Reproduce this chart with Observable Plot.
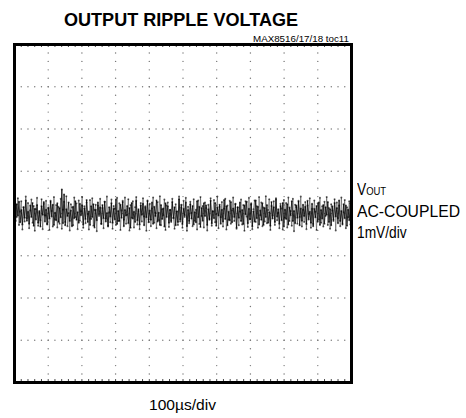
<!DOCTYPE html>
<html>
<head>
<meta charset="utf-8">
<script src="https://cdn.jsdelivr.net/npm/d3@7"></script>
<script src="https://cdn.jsdelivr.net/npm/@observablehq/plot@0.6"></script>
<style>
  html, body { margin: 0; padding: 0; background: #fff; }
  #wrap { position: relative; width: 466px; height: 418px; overflow: hidden; font-family: "Liberation Sans", Arial, sans-serif; color: #000; }
  #wrap svg { position: absolute; left: 0; top: 0; }
  .lbl { position: absolute; white-space: nowrap; line-height: 1; transform-origin: 0 0; }
</style>
</head>
<body>
<div id="wrap"></div>
<script>
// ---- data ----
const title = "OUTPUT RIPPLE VOLTAGE";
const figId = "MAX8516/17/18 toc11";
const traceLabel = ["V", "OUT", "AC-COUPLED", "1mV/div"];
const timeLabel = "100µs/div";
const xDivs = [0, 1, 2, 3, 4, 5, 6, 7, 8, 9, 10];   // 100 µs per division
const yDivs = [-4, -3, -2, -1, 0, 1, 2, 3, 4];      // 1 mV per division
const minorStep = 0.2;
// VOUT ripple, AC-coupled, in mV (estimated from the trace band) - sweep 1
const rippleMV = [
  0.12,-0.18,0.22,-0.05,0.28,-0.21,0.08,-0.26,0.15,-0.10,0.31,-0.17,0.04,-0.24,0.19,-0.08,0.25,-0.29,0.11,-0.14,
  0.20,-0.22,0.06,-0.31,0.17,-0.03,0.27,-0.19,0.09,-0.25,0.14,-0.12,0.30,-0.07,0.21,-0.27,0.02,-0.16,0.24,-0.20,
  0.13,-0.09,0.57,-0.23,0.45,-0.28,0.10,-0.06,0.26,-0.18,0.07,-0.30,0.16,-0.11,0.29,-0.15,0.03,-0.22,0.23,-0.04,
  0.19,-0.26,0.12,-0.13,0.32,-0.20,0.05,-0.27,0.17,-0.08,0.22,-0.33,0.09,-0.16,0.26,-0.02,0.14,-0.24,0.20,-0.11,
  0.28,-0.19,0.01,-0.29,0.15,-0.07,0.24,-0.22,0.11,-0.14,0.33,-0.25,0.06,-0.18,0.21,-0.10,0.27,-0.30,0.08,-0.05,
  0.18,-0.23,0.13,-0.34,0.25,-0.12,0.04,-0.20,0.30,-0.16,0.10,-0.26,0.19,-0.03,0.23,-0.28,0.14,-0.09,0.29,-0.21,
  0.07,-0.15,0.26,-0.24,0.16,-0.06,0.31,-0.19,0.02,-0.27,0.20,-0.13,0.12,-0.31,0.24,-0.08,0.17,-0.22,0.09,-0.17,
  0.27,-0.10,0.15,-0.28,0.05,-0.20,0.34,-0.14,0.21,-0.25,0.11,-0.04,0.26,-0.30,0.08,-0.18,0.22,-0.12,0.18,-0.26,
  0.03,-0.21,0.29,-0.09,0.16,-0.32,0.13,-0.17,0.24,-0.06,0.19,-0.27,0.10,-0.15,0.30,-0.23,0.06,-0.11,0.25,-0.29,
  0.14,-0.05,0.21,-0.24,0.09,-0.19,0.32,-0.13,0.17,-0.28,0.04,-0.16,0.27,-0.21,0.12,-0.08,0.23,-0.33,0.15,-0.10,
  0.26,-0.18,0.08,-0.25,0.19,-0.02,0.28,-0.23,0.11,-0.14,0.22,-0.30,0.05,-0.19,0.31,-0.11,0.16,-0.26,0.07,-0.15,
  0.24,-0.27,0.13,-0.08,0.20,-0.22,0.03,-0.29,0.27,-0.12,0.15,-0.20,0.33,-0.07,0.10,-0.24,0.18,-0.16,0.25,-0.31,
  0.09,-0.13,0.22,-0.26,0.14,-0.04,0.29,-0.18,0.06,-0.23,0.19,-0.10,0.28,-0.28,0.12,-0.17,0.21,-0.06,0.16,-0.25,
  0.30,-0.14,0.04,-0.22,0.23,-0.30,0.11,-0.09,0.18,-0.19,0.26,-0.27,0.08,-0.12,0.20,-0.24,0.15,-0.03,0.27,-0.20,
  0.10,-0.28,0.17,-0.15,0.25,-0.07,0.13,-0.23,0.31,-0.18,0.06,-0.26,0.22,-0.11,0.19,-0.29,0.09,-0.16,0.24,-0.12
];
// sweep 2 (persistence samples, in mV)
const rippleMV2 = [
  -0.32,0.21,-0.08,0.36,-0.27,0.04,0.29,-0.38,0.15,-0.19,0.40,-0.11,0.25,-0.35,0.07,0.33,-0.22,0.18,-0.41,0.10,
  0.37,-0.29,0.02,-0.16,0.34,-0.37,0.23,-0.05,0.30,-0.26,0.12,-0.39,0.27,0.06,-0.31,0.39,-0.14,0.20,-0.33,0.16,
  -0.24,0.35,-0.36,0.09,0.28,-0.20,0.41,-0.30,0.01,-0.40,0.22,0.14,-0.28,0.38,-0.09,0.24,-0.37,0.31,-0.17,0.05,
  0.39,-0.34,0.17,-0.23,0.26,-0.01,-0.38,0.32,-0.13,0.36,-0.29,0.08,0.21,-0.42,0.19,-0.06,0.35,-0.25,0.13,-0.35,
  0.28,-0.12,0.40,-0.31,0.03,-0.21,0.33,-0.36,0.18,0.11,-0.27,0.37,-0.18,0.24,-0.39,0.07,0.30,-0.15,0.38,-0.24,
  -0.03,0.34,-0.40,0.20,-0.10,0.29,-0.33,0.15,0.39,-0.26,0.06,-0.37,0.25,-0.19,0.36,-0.07,0.17,-0.41,0.31,-0.14,
  0.23,-0.30,0.12,0.38,-0.22,0.02,-0.35,0.27,-0.16,0.41,-0.28,0.10,-0.04,0.33,-0.39,0.19,0.26,-0.32,0.08,-0.20,
  0.35,-0.11,-0.36,0.22,0.05,-0.27,0.40,-0.19,0.14,-0.34,0.30,-0.08,0.37,-0.41,0.16,-0.23,0.28,0.01,-0.30,0.34,
  -0.17,0.09,-0.38,0.31,-0.25,0.39,-0.06,0.18,-0.33,0.26,0.13,-0.40,0.21,-0.12,0.36,-0.29,0.04,0.32,-0.21,-0.02,
  0.40,-0.35,0.16,-0.09,0.27,-0.31,0.11,0.35,-0.38,0.19,-0.15,0.30,-0.24,0.07,0.38,-0.18,0.22,-0.36,0.14,-0.28,
  0.05,0.33,-0.26,0.20,-0.41,0.29,-0.07,-0.32,0.37,-0.13,0.24,-0.37,0.10,0.31,-0.20,0.17,-0.34,0.39,-0.04,0.26,
  -0.30,0.14,-0.19,0.41,-0.23,0.08,0.34,-0.39,0.18,-0.05,0.29,-0.27,0.36,-0.16,0.02,-0.35,0.23,0.12,-0.38,0.32,
  -0.10,0.25,-0.33,0.38,-0.18,0.06,-0.29,0.35,-0.42,0.21,0.15,-0.24,0.30,-0.08,0.40,-0.31,0.09,-0.20,0.27,-0.37,
  0.19,-0.01,0.36,-0.34,0.11,-0.25,0.31,0.04,-0.39,0.24,-0.14,0.37,-0.22,0.17,-0.31,0.28,-0.06,0.39,-0.27,0.13,
  -0.36,0.22,0.07,-0.18,0.34,-0.40,0.26,-0.11,0.19,-0.30,0.38,-0.23,0.03,0.32,-0.35,0.15,-0.09,0.29,-0.26,0.21
];

// ---- derived tables ----
const xMin = xDivs[0], xMax = xDivs[xDivs.length - 1];
const yMin = yDivs[0], yMax = yDivs[yDivs.length - 1];
const toTrace = arr => arr.map((v, i) => ({t: xMin + (xMax - xMin) * i / (arr.length - 1), v}));
const trace1 = toTrace(rippleMV);
const trace2 = toTrace(rippleMV2);
const minorX = d3.range(xMin, xMax + 1e-9, minorStep);
const minorY = d3.range(yMin, yMax + 1e-9, minorStep);
const vDots = [];
xDivs.slice(1, -1).forEach(x => minorY.forEach(y => vDots.push({x, y})));
const hDots = [];
yDivs.slice(1, -1).forEach(y => minorX.forEach(x => hDots.push({x, y})));

const chart = Plot.plot({
  width: 466,
  height: 418,
  marginLeft: 14,
  marginRight: 115,
  marginTop: 44,
  marginBottom: 36,
  x: {domain: [xMin, xMax], axis: null},
  y: {domain: [yMin, yMax], axis: null},
  marks: [
    Plot.dot(vDots, {x: "x", y: "y", r: 0.7, fill: "#777", stroke: "none"}),
    Plot.dot(hDots, {x: "x", y: "y", r: 0.7, fill: "#777", stroke: "none"}),
    Plot.ruleX(minorX, {y1: yMax, y2: yMax - 0.07, stroke: "#444", strokeWidth: 1}),
    Plot.ruleX(minorX, {y1: yMin, y2: yMin + 0.07, stroke: "#444", strokeWidth: 1}),
    Plot.line(trace2, {x: "t", y: "v", stroke: "#444", strokeWidth: 0.8, strokeOpacity: 0.7}),
    Plot.line(trace1, {x: "t", y: "v", stroke: "#111", strokeWidth: 1, strokeOpacity: 0.85}),
    Plot.dot(trace2, {x: "t", y: "v", r: 1, fill: "#000", fillOpacity: 0.6, stroke: "none"}),
    Plot.dot(trace1, {x: "t", y: "v", r: 1, fill: "#000", fillOpacity: 0.65, stroke: "none"}),
    Plot.frame({stroke: "#000", strokeWidth: 3})
  ]
});

const wrap = document.getElementById("wrap");
wrap.appendChild(chart);

function addLabel(html, opts) {
  const el = document.createElement("div");
  el.className = "lbl";
  el.innerHTML = html;
  el.style.fontSize = opts.size + "px";
  if (opts.bold) el.style.fontWeight = "bold";
  wrap.appendChild(el);
  const w = el.getBoundingClientRect().width;
  const sx = opts.width ? opts.width / w : (opts.sx || 1);
  const drawnW = w * sx;
  let left;
  if (opts.anchor === "middle") left = opts.x - drawnW / 2;
  else if (opts.anchor === "end") left = opts.x - drawnW;
  else left = opts.x;
  el.style.left = left + "px";
  el.style.top = (opts.baseline - 0.847 * opts.size) + "px";
  el.style.transform = `scaleX(${sx})`;
  return el;
}

addLabel(title, {size: 19, bold: true, x: 181, baseline: 26, anchor: "middle", width: 234});
addLabel(figId, {size: 9.5, x: 349, baseline: 42, anchor: "end", width: 96});
addLabel(`${traceLabel[0]}<span style="font-size:11px">${traceLabel[1]}</span>`, {size: 16, x: 357, baseline: 196, sx: 0.86});
addLabel(traceLabel[2], {size: 16, x: 357, baseline: 218, width: 103});
addLabel(traceLabel[3], {size: 16, x: 357, baseline: 239, sx: 0.86});
addLabel(timeLabel, {size: 15.5, x: 182, baseline: 410, anchor: "middle", width: 67});
</script>
</body>
</html>
